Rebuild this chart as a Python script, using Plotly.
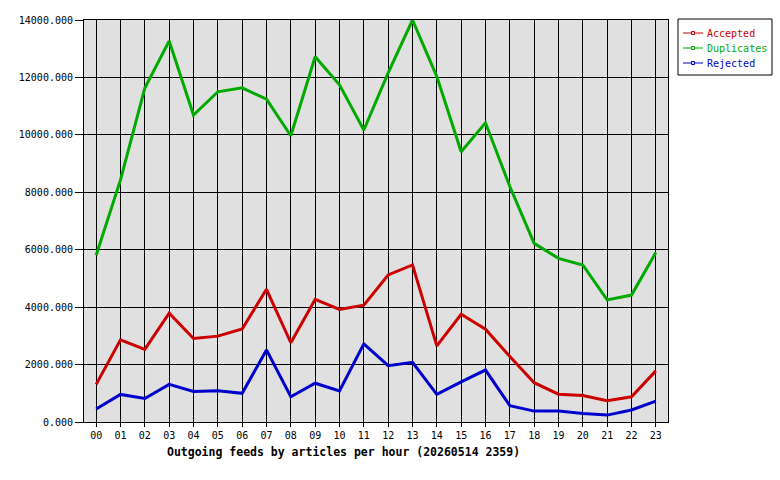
import plotly.graph_objects as go

hours = [f"{h:02d}" for h in range(24)]
accepted = [1310, 2860, 2530, 3790, 2910, 2990, 3240, 4620, 2760, 4270, 3920, 4070,
            5120, 5470, 2650, 3750, 3230, 2280, 1370, 970, 920, 740, 880, 1780]
duplicates = [5810, 8430, 11630, 13270, 10690, 11500, 11640, 11240, 9970, 12720, 11740, 10170,
              12160, 14000, 12030, 9410, 10420, 8200, 6220, 5700, 5470, 4250, 4420, 5900]
rejected = [450, 960, 820, 1310, 1060, 1090, 1000, 2510, 880, 1350, 1080, 2720,
            1960, 2080, 960, 1400, 1810, 570, 380, 380, 300, 240, 420, 730]

series = [("Accepted", accepted, "#cc0000"),
          ("Duplicates", duplicates, "#00aa00"),
          ("Rejected", rejected, "#0000cc")]

FONT = "DejaVu Sans Mono"
L, R, T, B = 84, 668, 20, 422
W, H = R - L, B - T


def px(x):
    return (x - L) / W


def py(y):
    return (B - y) / H


fig = go.Figure()
xs = list(range(24))
for name, vals, col in series:
    fig.add_trace(go.Scatter(x=xs, y=vals, mode="lines", name=name,
                             line=dict(color=col, width=3), showlegend=False))

shapes = [dict(type="rect", xref="paper", yref="paper",
               x0=px(678), x1=px(772), y0=py(75), y1=py(19),
               line=dict(color="black", width=1), fillcolor="white")]
annotations = []
for i, (name, vals, col) in enumerate(series):
    yy = 33 + 15 * i
    shapes.append(dict(type="line", xref="paper", yref="paper",
                       x0=px(683), x1=px(703), y0=py(yy), y1=py(yy),
                       line=dict(color=col, width=1)))
    shapes.append(dict(type="rect", xref="paper", yref="paper",
                       x0=px(691.5), x1=px(694.5), y0=py(yy + 1.5), y1=py(yy - 1.5),
                       line=dict(color=col, width=1), fillcolor="#e0e0e0"))
    annotations.append(dict(xref="paper", yref="paper", x=px(705), y=py(yy),
                            xanchor="left", yanchor="middle", showarrow=False,
                            text=name, font=dict(family=FONT, size=10, color=col)))

annotations.append(dict(xref="paper", yref="paper", x=px(343), y=py(452),
                        xanchor="center", yanchor="middle", showarrow=False,
                        text="<b>Outgoing feeds by articles per hour (20260514 2359)</b>",
                        font=dict(family=FONT, size=11.5, color="black")))

fig.update_layout(
    width=780, height=480,
    margin=dict(l=L, r=780 - R, t=T, b=480 - B, autoexpand=False),
    paper_bgcolor="white", plot_bgcolor="#e0e0e0",
    font=dict(family=FONT, size=10, color="black"),
    showlegend=False,
    shapes=shapes, annotations=annotations,
    xaxis=dict(range=[-0.5, 23.5], tickmode="array", tickvals=xs, ticktext=hours,
               showgrid=True, gridcolor="black", gridwidth=1,
               showline=True, linecolor="black", mirror=True, linewidth=1,
               ticks="outside", ticklen=4, tickcolor="black", zeroline=False,
               tickfont=dict(family=FONT, size=10)),
    yaxis=dict(range=[0, 14000], tickvals=[0, 2000, 4000, 6000, 8000, 10000, 12000, 14000],
               tickformat=".3f", showgrid=True, gridcolor="black", gridwidth=1,
               showline=True, linecolor="black", mirror=True, linewidth=1,
               ticks="outside", ticklen=8, tickcolor="black", zeroline=False,
               tickfont=dict(family=FONT, size=10)),
)

fig.write_html("out.html")
